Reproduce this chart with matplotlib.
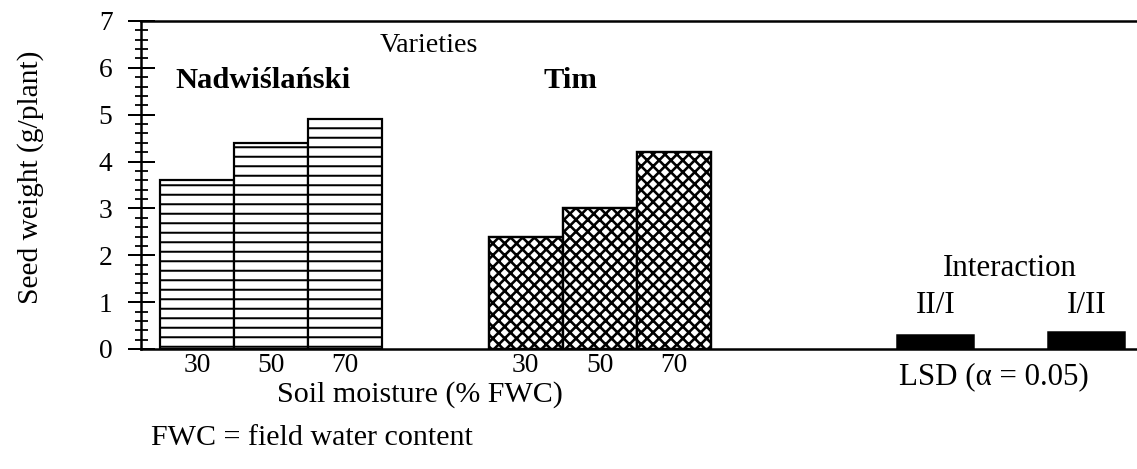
import numpy as np
import matplotlib.pyplot as plt
from matplotlib.ticker import MultipleLocator

# wysoka rozdzielczość, żeby gęstość kreskowania pasowała do skanu
DPI = 285
W, H = 1137, 469

def pt(px):
    """Piksele -> punkty przy danym DPI."""
    return px * 72 / DPI

def fx(px):
    return px / W

def fy(py):
    return 1 - py / H

# dane
moisture = ["30", "50", "70"]
nadwislanski = [3.6, 4.4, 4.9]
tim = [2.4, 3.0, 4.2]
lsd_labels = ["II/I", "I/II"]
lsd_values = [0.30, 0.36]

plt.rcParams['font.family'] = ['Liberation Serif', 'DejaVu Serif']
plt.rcParams['hatch.color'] = 'black'

fs_tick = pt(27.5)   # opisy osi
fs_bottom = pt(30)   # podpisy pod wykresem
fs_bold = pt(30.5)   # nazwy odmian
fs_right = pt(31)    # opisy NIR po prawej

fig = plt.figure(figsize=(W / DPI, H / DPI), dpi=DPI)
ax = fig.add_axes([fx(141), fy(349), 1 - fx(141), fy(21) - fy(349)])

x_nad = 0.757 + np.arange(len(moisture))
x_tim = 5.20 + np.arange(len(moisture))
x_lsd = np.array([10.74, 12.78])

plt.rcParams['hatch.linewidth'] = pt(2.0)
ax.bar(x_nad, nadwislanski, width=1.0, facecolor='white', edgecolor='black',
       linewidth=pt(2.2), hatch='-----')
plt.rcParams['hatch.linewidth'] = pt(2.6)
ax.bar(x_tim, tim, width=1.0, facecolor='white', edgecolor='black',
       linewidth=pt(2.4), hatch='xxxxxxxx')
ax.bar(x_lsd, lsd_values, width=1.04, color='black', edgecolor='black',
       linewidth=pt(1.5))

ax.set_xlim(0, (W - 141) / 74)
ax.set_ylim(0, 7)

ax.yaxis.set_major_locator(MultipleLocator(1))
ax.yaxis.set_minor_locator(MultipleLocator(0.2))
ax.tick_params(axis='y', which='major', direction='inout', length=pt(27),
               width=pt(2), labelsize=fs_tick, pad=pt(15))
ax.tick_params(axis='y', which='minor', direction='inout', length=pt(13),
               width=pt(1.8))

ax.set_xticks(np.concatenate([x_nad, x_tim]))
ax.set_xticklabels(moisture + moisture)
ax.tick_params(axis='x', length=0, labelsize=fs_tick, pad=pt(4))

for s in ['top', 'bottom', 'left']:
    ax.spines[s].set_linewidth(pt(2.5))
ax.spines['right'].set_visible(False)

# teksty
fig.text(fx(31), fy(177), "Seed weight (g/plant)", rotation=90,
         ha='center', va='center', fontsize=pt(29.5))
fig.text(fx(380), fy(45), "Varieties", ha='left', va='center',
         fontsize=pt(28))
fig.text(fx(175), fy(80), "Nadwiślański", ha='left', va='center',
         fontsize=fs_bold, fontweight='bold')
fig.text(fx(544), fy(80), "Tim", ha='left', va='center',
         fontsize=fs_bold, fontweight='bold')
fig.text(fx(420), fy(402), "Soil moisture (% FWC)", ha='center',
         va='baseline', fontsize=fs_bottom)
fig.text(fx(151), fy(445), "FWC = field water content", ha='left',
         va='baseline', fontsize=fs_bottom)
fig.text(fx(1010), fy(268), "Interaction", ha='center', va='center',
         fontsize=fs_right)
for xc, lab in zip(x_lsd, lsd_labels):
    ax.text(xc, 0.62, lab, ha='center', va='bottom', fontsize=fs_right)
fig.text(fx(994), fy(377), "LSD (α = 0.05)", ha='center', va='center',
         fontsize=fs_right)

fig.savefig("out.png", dpi=DPI)
